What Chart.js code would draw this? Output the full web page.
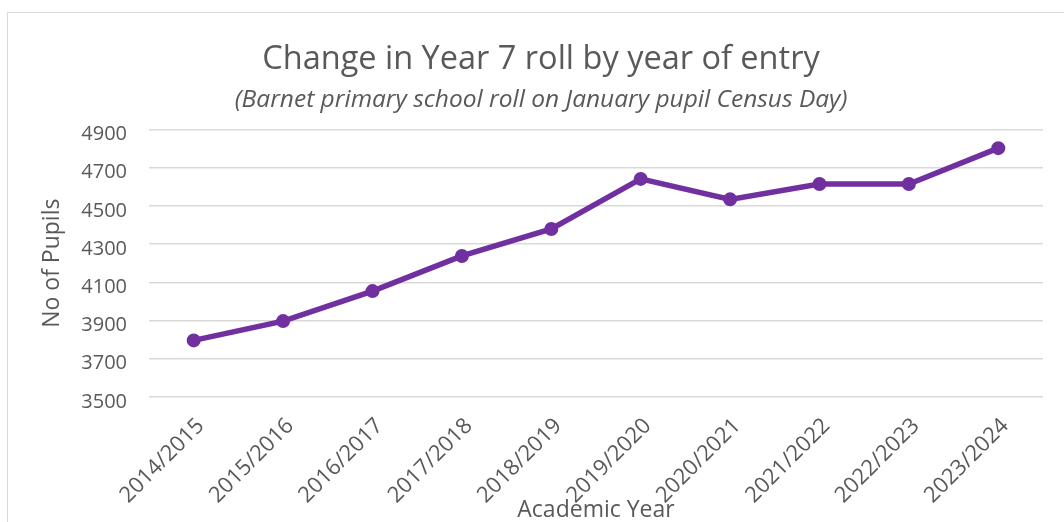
<!DOCTYPE html>
<html>
<head>
<meta charset="utf-8">
<script src="https://cdn.jsdelivr.net/npm/chart.js@4/dist/chart.umd.min.js"></script>
<style>
  html, body { margin: 0; padding: 0; background: #ffffff; }
  #wrap { position: relative; width: 1064px; height: 522px; overflow: hidden; }
  #frame { position: absolute; left: 7px; top: 12px; width: 1200px; height: 700px; border: 1.5px solid #d9d9d9; box-sizing: border-box; }
  #c { position: absolute; left: 0; top: 0; }
</style>
</head>
<body>
<div id="wrap">
  <div id="frame"></div>
  <canvas id="c" width="1064" height="522"></canvas>
</div>
<script>
// Data
const categories = ["2014/2015", "2015/2016", "2016/2017", "2017/2018", "2018/2019",
                    "2019/2020", "2020/2021", "2021/2022", "2022/2023", "2023/2024"];
const pupils = [3796, 3897, 4054, 4238, 4379, 4641, 4534, 4614, 4614, 4802];
const yTickValues = [3500, 3700, 3900, 4100, 4300, 4500, 4700, 4900];
const titleText = "Change in Year 7 roll by year of entry";
const subtitleText = "(Barnet primary school roll on January pupil Census Day)";
const yTitle = "No of Pupils";
const xTitle = "Academic Year";

const FONT = "'Open Sans', 'Noto Sans', sans-serif";
const GREY = "#595959";
const PURPLE = "#7030A0";

new Chart(document.getElementById('c'), {
  type: 'line',
  data: {
    labels: categories,
    datasets: [{
      data: pupils,
      borderColor: PURPLE,
      backgroundColor: PURPLE,
      borderWidth: 5.5,
      pointRadius: 6,
      pointBorderWidth: 2,
      pointBackgroundColor: PURPLE,
      pointBorderColor: PURPLE,
      tension: 0,
      fill: false
    }]
  },
  options: {
    responsive: false,
    animation: false,
    layout: { padding: { left: 39, right: 21, top: 0, bottom: 0 } },
    plugins: {
      legend: { display: false },
      tooltip: { enabled: false },
      title: {
        display: true,
        text: titleText,
        color: GREY,
        font: { family: FONT, size: 32.5, weight: 'normal' },
        padding: { top: 40, bottom: 0 }
      },
      subtitle: {
        display: true,
        text: subtitleText,
        color: GREY,
        font: { family: FONT, size: 24.5, style: 'italic', weight: 'normal' },
        padding: { top: 6, bottom: 15 }
      }
    },
    scales: {
      x: {
        type: 'category',
        offset: true,
        grid: { display: false, drawTicks: false },
        border: { display: false },
        ticks: {
          color: GREY,
          font: { family: FONT, size: 22 },
          maxRotation: 45,
          minRotation: 45,
          padding: 16,
          labelOffset: 7,
          autoSkip: false
        },
        title: {
          display: true,
          text: xTitle,
          color: GREY,
          font: { family: FONT, size: 23 },
          padding: { top: 0, bottom: -2 }
        },
        afterFit: (s) => { s.height = 125; }
      },
      y: {
        min: 3500,
        max: 4900,
        afterBuildTicks: (s) => { s.ticks = yTickValues.map(v => ({ value: v })); },
        grid: { color: '#d9d9d9', lineWidth: 1.5, drawTicks: false },
        border: { display: false },
        ticks: {
          color: GREY,
          font: { family: FONT, size: 20 },
          padding: 22,
          labelOffset: 5,
          callback: (v) => String(v)
        },
        title: {
          display: true,
          text: yTitle,
          color: GREY,
          font: { family: FONT, size: 23 },
          padding: { top: 0, bottom: 0 }
        },
        afterFit: (s) => { s.width = 110; }
      }
    }
  }
});
</script>
</body>
</html>
